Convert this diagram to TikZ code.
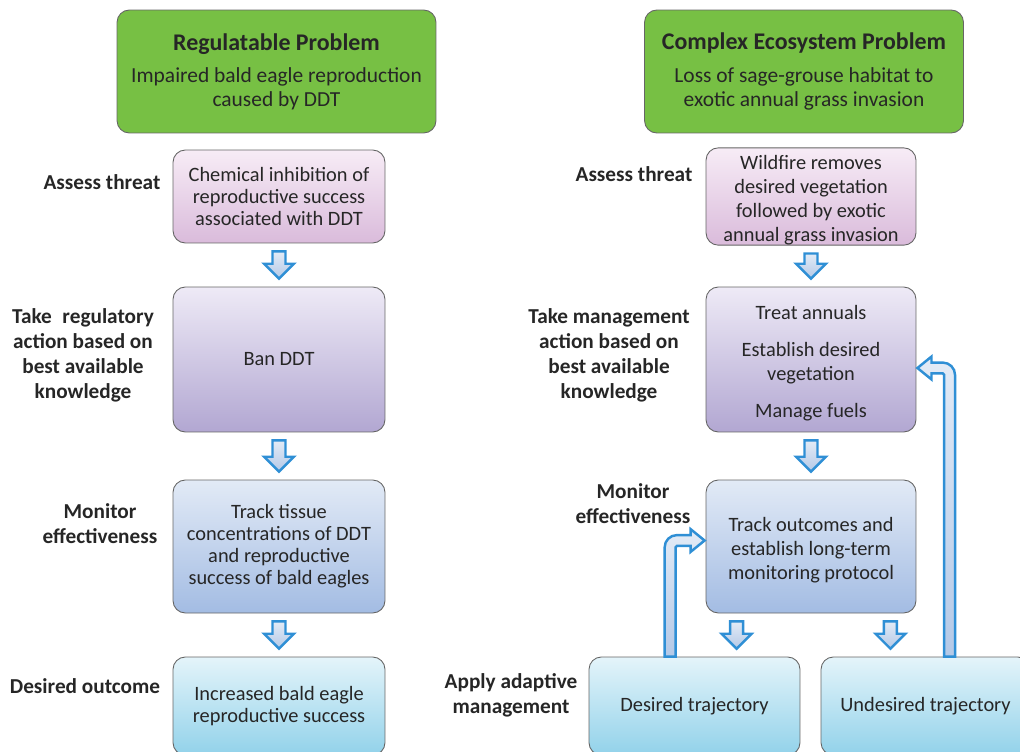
\documentclass[tikz,border=0pt]{standalone}
\usepackage{fontspec}
\setmainfont{Carlito}
\usetikzlibrary{calc}

\definecolor{leafgreen}{HTML}{77C044}
\definecolor{inktext}{HTML}{262626}
\definecolor{pinktop}{HTML}{F7ECF6}
\definecolor{pinkbot}{HTML}{DABBDB}
\definecolor{lavtop}{HTML}{EEEAF6}
\definecolor{lavbot}{HTML}{B2A7D2}
\definecolor{bluetop}{HTML}{E2EAF6}
\definecolor{bluebot}{HTML}{A3BCE3}
\definecolor{cyantop}{HTML}{E4F4FA}
\definecolor{cyanbot}{HTML}{92D2EA}
\definecolor{arrowline}{HTML}{2F8FD5}
\definecolor{arrowtop}{HTML}{E3EBF6}
\definecolor{arrowbot}{HTML}{B4C9E7}

\tikzset{
  stepbox/.style={draw=black!60, line width=0.5pt, rounded corners=7pt, inner sep=0pt,
    align=center, text=inktext, font=\fontsize{12.2}{13.3}\selectfont},
  headbox/.style={stepbox, fill=leafgreen, minimum width=6.38cm, minimum height=2.46cm},
  threatbox/.style={stepbox, top color=pinktop, bottom color=pinkbot, minimum height=1.86cm},
  actbox/.style={stepbox, top color=lavtop, bottom color=lavbot, minimum height=2.9cm},
  monbox/.style={stepbox, top color=bluetop, bottom color=bluebot, minimum height=2.66cm},
  outbox/.style={stepbox, top color=cyantop, bottom color=cyanbot, minimum height=1.96cm},
  leftbox/.style={minimum width=4.24cm, font=\fontsize{11.6}{12.5}\selectfont},
  rightbox/.style={minimum width=4.2cm, font=\fontsize{11.6}{13.7}\selectfont},
  sidelabel/.style={align=center, text=inktext, inner sep=0pt,
    font=\bfseries\fontsize{12.1}{14.2}\selectfont},
  blockarrow/.style={draw=arrowline, line width=1.4pt, line join=miter,
    top color=arrowtop, bottom color=arrowbot}
}

% block arrow pointing down, from below one box to above the next
\newcommand\downblock[2]{%
  \draw[blockarrow] let \p1=(#1), \p2=(#2) in
    (\x1-3.7pt,\y1-4.5pt) -- (\x1+3.7pt,\y1-4.5pt) -- (\x1+3.7pt,\y2+13pt)
    -- (\x1+8.5pt,\y2+13pt) -- (\x1,\y2+4.5pt) -- (\x1-8.5pt,\y2+13pt)
    -- (\x1-3.7pt,\y2+13pt) -- cycle;}

\newcommand\boxtitle[1]{{\bfseries\fontsize{13.6}{13.3}\selectfont #1}\\[5.4pt]}
\newcommand\lowerby{\rule{0pt}{12.3pt}}

\begin{document}
\begin{tikzpicture}[x=0.02cm, y=-0.02cm]
  \useasboundingbox (0,0) rectangle (1020,751);
  \clip (0,0) rectangle (1020,751);

  % regulatable problem
  \node[headbox] (lhead) at (276.5,71.5)
    {\boxtitle{Regulatable Problem}Impaired bald eagle reproduction\\caused by DDT};
  \node[threatbox, leftbox] (lthreat) at (279,196.5)
    {Chemical inhibition of\\reproductive success\\associated with DDT};
  \node[actbox, leftbox] (lact) at (279,359.5) {Ban DDT};
  \node[monbox, leftbox] (lmon) at (279,546.5)
    {Track tissue\\concentrations of DDT\\and reproductive\\success of bald eagles};
  \node[outbox, leftbox] (lout) at (279,706)
    {Increased bald eagle\\reproductive success};

  \node[sidelabel] (lassess) at (102,182) {Assess threat};
  \node[sidelabel] (ltake) at (83,355.5)
    {Take\enspace regulatory\\action based on\\best available\\knowledge};
  \node[sidelabel] (lmonitor) at (100,523.5) {Monitor\\effectiveness};
  \node[sidelabel] (ldesired) at (85,686) {Desired outcome};

  % complex ecosystem problem
  \node[headbox] (rhead) at (804,71.5)
    {\boxtitle{Complex Ecosystem Problem}Loss of sage-grouse habitat to\\exotic annual grass invasion};
  \node[threatbox, rightbox] (rthreat) at (811,196.5)
    {\lowerby Wildfire removes\\desired vegetation\\followed by exotic\\annual grass invasion};
  \node[actbox, rightbox] (ract) at (811,359.5)
    {\lowerby Treat annuals\\[7.4pt]Establish desired\\vegetation\\[7.4pt]Manage fuels};
  \node[monbox, rightbox] (rtrack) at (811,546.5)
    {\lowerby Track outcomes and\\establish long-term\\monitoring protocol};
  \node[outbox, rightbox, minimum width=4.22cm] (rdes) at (694.5,706) {Desired trajectory};
  \node[outbox, rightbox, minimum width=4.18cm] (rundes) at (925.5,706) {Undesired trajectory};

  \node[sidelabel] (rassess) at (634,174) {Assess threat};
  \node[sidelabel] (rtake) at (609,355.5)
    {Take management\\action based on\\best available\\knowledge};
  \node[sidelabel] (rmonitor) at (633,504) {Monitor\\effectiveness};
  \node[sidelabel] (rapply) at (511,695.5) {Apply adaptive\\management};

  % arrows
  \downblock{lthreat.south}{lact.north}
  \downblock{lact.south}{lmon.north}
  \downblock{lmon.south}{lout.north}
  \downblock{rthreat.south}{ract.north}
  \downblock{ract.south}{rtrack.north}
  \coordinate (splitdes) at ($(rtrack.south west)+(31,0)$);
  \coordinate (splitund) at ($(rtrack.south east)+(-26,0)$);
  \downblock{splitdes}{rdes.north}
  \downblock{splitund}{rundes.north}

  % feedback arrows
  \coordinate (backdes) at ($(rdes.north west)+(81.5,0)$);
  \coordinate (backund) at ($(rundes.north west)+(129,0)$);
  \draw[blockarrow] let \p1=(backdes), \p2=($(rtrack.west)+(-1,-6)$) in
    (\x1-3.1pt,\y1) -- (\x1-3.1pt,\y2-3.9pt) arc[start angle=180, end angle=90, radius=7pt]
    -- (\x2-8pt,\y2+3.1pt) -- (\x2-8pt,\y2+6.5pt) -- (\x2,\y2) -- (\x2-8pt,\y2-6.5pt)
    -- (\x2-8pt,\y2-3.1pt) -- (\x1+3.9pt,\y2-3.1pt) arc[start angle=90, end angle=180, radius=0.8pt]
    -- (\x1+3.1pt,\y1) -- cycle;
  \draw[blockarrow] let \p1=(backund), \p2=($(ract.east)+(1,8.5)$) in
    (\x1+3.1pt,\y1) -- (\x1+3.1pt,\y2-3.9pt) arc[start angle=0, end angle=90, radius=7pt]
    -- (\x2+8pt,\y2+3.1pt) -- (\x2+8pt,\y2+6.5pt) -- (\x2,\y2) -- (\x2+8pt,\y2-6.5pt)
    -- (\x2+8pt,\y2-3.1pt) -- (\x1-3.9pt,\y2-3.1pt) arc[start angle=90, end angle=0, radius=0.8pt]
    -- (\x1-3.1pt,\y1) -- cycle;
\end{tikzpicture}
\end{document}
